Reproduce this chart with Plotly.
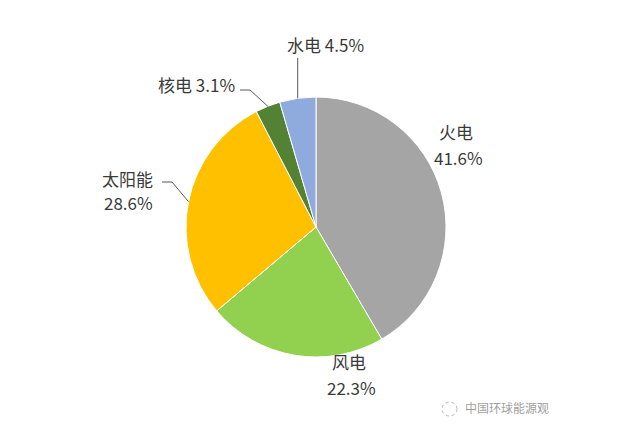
import math
import plotly.graph_objects as go

# ---- data ----
categories = ["火电", "风电", "太阳能", "核电", "水电"]
values = [41.6, 22.3, 28.6, 3.1, 4.5]
value_labels = ["41.6%", "22.3%", "28.6%", "3.1%", "4.5%"]
colors = ["#A5A5A5", "#92D050", "#FFC000", "#548235", "#8FAADC"]
watermark = "中国环球能源观"

W, H = 640, 425
CX, CY, R = 316, 227, 130

FONT = "Noto Sans CJK SC, Noto Sans, sans-serif"
TXT = "#3A3A3A"
LINE = "#595959"


def px(x):
    return x / W


def py(y):
    return 1 - y / H


fig = go.Figure(go.Pie(
    labels=categories,
    values=values,
    sort=False,
    direction="clockwise",
    rotation=0,
    marker=dict(colors=colors, line=dict(color="#FFFFFF", width=1)),
    textinfo="none",
    hoverinfo="label+percent",
    showlegend=False,
    domain=dict(x=[px(CX - R), px(CX + R)], y=[py(CY + R), py(CY - R)]),
))

# mid-angle (clockwise from 12 o'clock) of each slice, from the data
total = sum(values)
mid = []
acc = 0
for v in values:
    mid.append((acc + v / 2) / total * 2 * math.pi)
    acc += v


def edge(i, f=1.0):
    a = mid[i]
    return CX + R * f * math.sin(a), CY - R * f * math.cos(a)


annotations = []
shapes = []


def add_text(x, y, text, xanchor="center", size=17, color=TXT):
    annotations.append(dict(
        x=px(x), y=py(y), xref="paper", yref="paper", text=text,
        showarrow=False, xanchor=xanchor, yanchor="middle",
        font=dict(family=FONT, size=size, color=color),
    ))


def add_path(points):
    d = "M " + " L ".join(f"{px(x)},{py(y)}" for x, y in points)
    shapes.append(dict(type="path", path=d, xref="paper", yref="paper",
                       line=dict(color=LINE, width=1)))


# 火电
add_text(456, 132, categories[0])
add_text(458, 157, value_labels[0])
# 风电
add_text(349, 361, categories[1])
add_text(351, 387, value_labels[1])
# 太阳能
add_text(127, 178, categories[2])
add_text(128, 202, value_labels[2])
ex, ey = edge(2)
add_path([(162, 182), (172, 182), (ex, ey)])
# 核电
add_text(196, 84, categories[3] + " " + value_labels[3])
ex, ey = edge(3)
add_path([(240, 90), (250, 90), (ex, ey)])
# 水电
add_text(325, 45, categories[4] + " " + value_labels[4])
ex, ey = edge(4)
add_path([(ex, 58), (ex, ey)])

# watermark
add_text(463, 407, watermark, xanchor="left", size=12, color="#A0A0A0")
shapes.append(dict(type="circle", xref="paper", yref="paper",
                   x0=px(442), x1=px(457), y0=py(416), y1=py(402),
                   line=dict(color="#B5B5B5", width=1, dash="dot")))

fig.update_layout(
    width=W, height=H,
    margin=dict(l=0, r=0, t=0, b=0),
    paper_bgcolor="#FFFFFF",
    plot_bgcolor="#FFFFFF",
    annotations=annotations,
    shapes=shapes,
)

fig.write_html("out.html", config={"displayModeBar": False},
               post_script="document.body.style.margin='0';")
